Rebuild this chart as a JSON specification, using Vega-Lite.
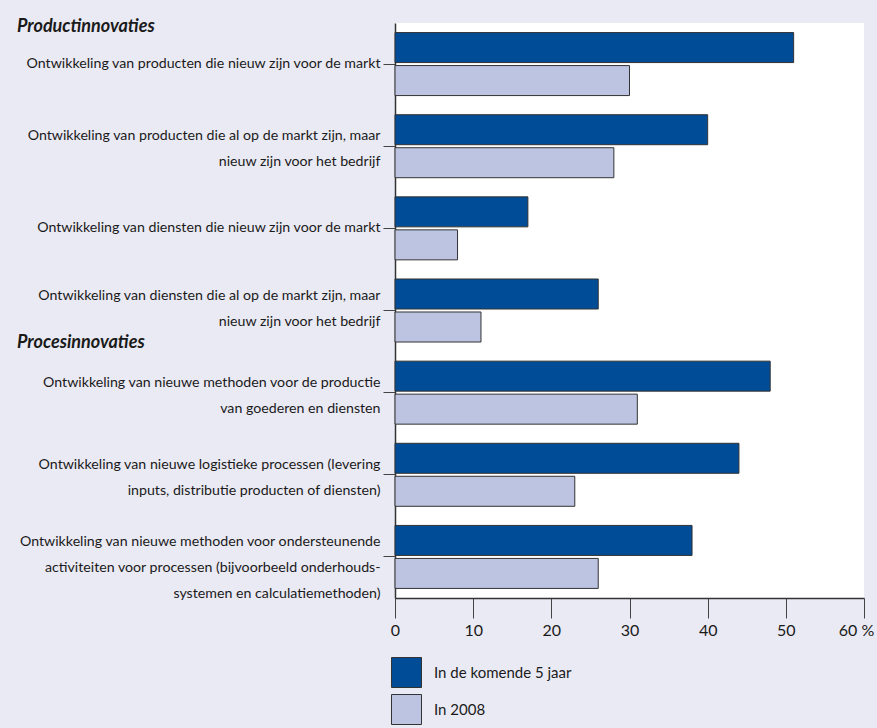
{
  "$schema": "https://vega.github.io/schema/vega-lite/v6.json",
  "width": 469,
  "height": 575,
  "autosize": {"type": "none"},
  "padding": {"left": 395, "top": 23, "right": 13, "bottom": 130},
  "background": "#EAEAF4",
  "config": {
    "view": {"fill": "white", "stroke": null},
    "font": "Lato",
    "text": {"font": "Lato"}
  },
  "data": {
    "values": [
      {"activiteit": "Ontwikkeling van producten die nieuw zijn voor de markt", "periode": "In de komende 5 jaar", "aandeel": 51},
      {"activiteit": "Ontwikkeling van producten die nieuw zijn voor de markt", "periode": "In 2008", "aandeel": 30},
      {"activiteit": "Ontwikkeling van producten die al op de markt zijn, maar|nieuw zijn voor het bedrijf", "periode": "In de komende 5 jaar", "aandeel": 40},
      {"activiteit": "Ontwikkeling van producten die al op de markt zijn, maar|nieuw zijn voor het bedrijf", "periode": "In 2008", "aandeel": 28},
      {"activiteit": "Ontwikkeling van diensten die nieuw zijn voor de markt", "periode": "In de komende 5 jaar", "aandeel": 17},
      {"activiteit": "Ontwikkeling van diensten die nieuw zijn voor de markt", "periode": "In 2008", "aandeel": 8},
      {"activiteit": "Ontwikkeling van diensten die al op de markt zijn, maar|nieuw zijn voor het bedrijf", "periode": "In de komende 5 jaar", "aandeel": 26},
      {"activiteit": "Ontwikkeling van diensten die al op de markt zijn, maar|nieuw zijn voor het bedrijf", "periode": "In 2008", "aandeel": 11},
      {"activiteit": "Ontwikkeling van nieuwe methoden voor de productie|van goederen en diensten", "periode": "In de komende 5 jaar", "aandeel": 48},
      {"activiteit": "Ontwikkeling van nieuwe methoden voor de productie|van goederen en diensten", "periode": "In 2008", "aandeel": 31},
      {"activiteit": "Ontwikkeling van nieuwe logistieke processen (levering|inputs, distributie producten of diensten)", "periode": "In de komende 5 jaar", "aandeel": 44},
      {"activiteit": "Ontwikkeling van nieuwe logistieke processen (levering|inputs, distributie producten of diensten)", "periode": "In 2008", "aandeel": 23},
      {"activiteit": "Ontwikkeling van nieuwe methoden voor ondersteunende|activiteiten voor processen (bijvoorbeeld onderhouds-|systemen en calculatiemethoden)", "periode": "In de komende 5 jaar", "aandeel": 38},
      {"activiteit": "Ontwikkeling van nieuwe methoden voor ondersteunende|activiteiten voor processen (bijvoorbeeld onderhouds-|systemen en calculatiemethoden)", "periode": "In 2008", "aandeel": 26}
    ]
  },
  "layer": [
    {
      "mark": {"type": "bar", "stroke": "#333333", "strokeWidth": 1},
      "encoding": {
        "y": {
          "field": "activiteit",
          "type": "nominal",
          "sort": null,
          "scale": {"paddingInner": 0.233, "paddingOuter": 0.1165},
          "axis": {
            "title": null,
            "labelExpr": "split(datum.label, '|')",
            "labelLimit": 0,
            "labelFontSize": 14.2,
            "labelColor": "#1a1a1a",
            "labelLineHeight": 26,
            "labelPadding": 3,
            "labelOffset": {
              "condition": [
                {"test": "indexof(datum.value, 'diensten die al') >= 0 || indexof(datum.value, 'systemen') >= 0", "value": -15},
                {"test": "indexof(datum.value, '|') >= 0", "value": -10}
              ],
              "value": 0
            },
            "tickSize": 12,
            "tickColor": "#444444",
            "domainColor": "#333333",
            "domainWidth": 1.5
          }
        },
        "yOffset": {
          "field": "periode",
          "type": "nominal",
          "sort": ["In de komende 5 jaar", "In 2008"],
          "scale": {"paddingInner": 0.0909, "paddingOuter": 0}
        },
        "x": {
          "field": "aandeel",
          "type": "quantitative",
          "scale": {"domain": [0, 60], "nice": false},
          "axis": {
            "title": null,
            "values": [0, 10, 20, 30, 40, 50, 60],
            "grid": false,
            "labelFlush": false,
            "labelExpr": "datum.value == 60 ? '60 %' : datum.label",
            "labelOffset": {"condition": {"test": "datum.value == 60", "value": -8}, "value": 0},
            "labelFontSize": 16,
            "labelColor": "#1a1a1a",
            "labelPadding": 4,
            "tickSize": 20,
            "tickColor": "#444444",
            "domainColor": "#333333",
            "domainWidth": 1.5
          }
        },
        "color": {
          "field": "periode",
          "type": "nominal",
          "sort": ["In de komende 5 jaar", "In 2008"],
          "scale": {"domain": ["In de komende 5 jaar", "In 2008"], "range": ["#004C97", "#BCC4E1"]},
          "legend": {
            "title": null,
            "orient": "none",
            "legendX": -4,
            "legendY": 634,
            "direction": "vertical",
            "padding": 0,
            "symbolType": "square",
            "symbolSize": 900,
            "symbolStrokeColor": "#333333",
            "symbolStrokeWidth": 1,
            "symbolOpacity": 1,
            "rowPadding": 2,
            "labelFontSize": 15,
            "labelColor": "#1a1a1a",
            "labelOffset": 12
          }
        }
      }
    },
    {
      "data": {"values": [{"activiteit": "Ontwikkeling van producten die nieuw zijn voor de markt", "kop": "Productinnovaties"}]},
      "mark": {"type": "text", "align": "left", "baseline": "middle", "dy": -6, "fontSize": 18, "fontWeight": "bold", "fontStyle": "italic", "color": "#1a1a1a"},
      "encoding": {
        "y": {"field": "activiteit", "type": "nominal", "sort": null, "bandPosition": 0},
        "x": {"value": -378},
        "text": {"field": "kop"}
      }
    },
    {
      "data": {"values": [{"activiteit": "Ontwikkeling van nieuwe methoden voor de productie|van goederen en diensten", "kop": "Procesinnovaties"}]},
      "mark": {"type": "text", "align": "left", "baseline": "middle", "dy": -18, "fontSize": 18, "fontWeight": "bold", "fontStyle": "italic", "color": "#1a1a1a"},
      "encoding": {
        "y": {"field": "activiteit", "type": "nominal", "sort": null, "bandPosition": 0},
        "x": {"value": -378},
        "text": {"field": "kop"}
      }
    }
  ]
}
